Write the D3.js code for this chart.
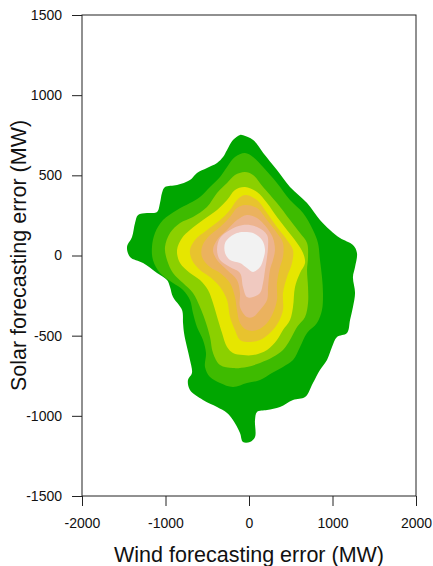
<!DOCTYPE html>
<html>
<head>
<meta charset="utf-8">
<script src="https://cdn.jsdelivr.net/npm/d3@7"></script>
<style>
  html, body { margin: 0; padding: 0; background: #fff; }
  svg { display: block; }
  text { font-family: "Liberation Sans", Arial, sans-serif; fill: #111; }
</style>
</head>
<body>
<svg id="chart" width="433" height="566"></svg>
<script>
// ---- data (wind error MW, solar error MW) ----
const xTicks = [-2000, -1000, 0, 1000, 2000];
const yTicks = [-1500, -1000, -500, 0, 500, 1000, 1500];
const levelColors = ["#00A600", "#3EBB00", "#8BD000", "#E6E600", "#E8C32E", "#EBB25E", "#EDB48E", "#F0C9C0", "#F2F2F2"];

const contour1 = [[-70,750],[50,720],[170,640],[335,533],[491,427],[695,327],[850,221],[970,159],[1090,109],[1245,65],[1293,16],[1270,-72],[1245,-134],[1270,-234],[1245,-321],[1210,-402],[1174,-483],[1054,-508],[994,-571],[934,-652],[850,-714],[766,-795],[671,-883],[527,-901],[371,-945],[216,-964],[96,-976],[72,-1026],[72,-1132],[12,-1163],[-72,-1163],[-108,-1107],[-192,-1026],[-263,-982],[-383,-945],[-551,-901],[-707,-839],[-731,-777],[-683,-733],[-707,-652],[-743,-571],[-778,-483],[-790,-421],[-802,-340],[-910,-259],[-946,-196],[-982,-153],[-1102,-109],[-1269,-47],[-1425,-9],[-1461,53],[-1401,115],[-1365,203],[-1329,253],[-1222,265],[-1102,271],[-1066,327],[-1042,390],[-1006,427],[-862,440],[-707,471],[-623,515],[-503,546],[-383,577],[-311,614],[-263,658],[-192,720],[-108,752]];
const contour2 = [[-48,639],[48,614],[168,552],[335,452],[491,346],[647,265],[766,159],[826,78],[850,-28],[874,-134],[886,-234],[874,-340],[814,-421],[695,-483],[611,-571],[527,-652],[407,-695],[275,-733],[132,-777],[-24,-795],[-192,-820],[-347,-795],[-467,-758],[-527,-695],[-515,-608],[-551,-527],[-623,-446],[-671,-359],[-707,-278],[-790,-215],[-910,-172],[-1066,-109],[-1150,-28],[-1162,53],[-1126,140],[-1030,221],[-862,284],[-707,327],[-587,365],[-467,427],[-347,490],[-263,552],[-168,614]];
const contour3 = [[-48,521],[48,502],[168,427],[335,327],[491,221],[611,140],[695,78],[707,-9],[695,-90],[707,-196],[707,-296],[671,-384],[575,-446],[491,-527],[407,-589],[287,-633],[132,-670],[-24,-695],[-192,-702],[-347,-683],[-431,-608],[-467,-508],[-527,-402],[-587,-321],[-671,-234],[-790,-172],[-910,-109],[-982,-28],[-1006,53],[-946,140],[-826,203],[-671,240],[-503,302],[-383,390],[-263,452],[-168,502]];
const contour4 = [[-48,427],[96,396],[216,327],[335,240],[455,159],[575,78],[647,16],[671,-47],[611,-109],[551,-196],[527,-321],[491,-402],[407,-465],[335,-527],[216,-589],[48,-621],[-72,-621],[-192,-608],[-263,-571],[-323,-483],[-371,-402],[-431,-296],[-491,-215],[-587,-153],[-707,-109],[-826,-47],[-862,34],[-802,109],[-707,159],[-551,221],[-383,284],[-263,346],[-168,409]];
const contour5 = [[-48,377],[96,346],[216,265],[335,178],[455,97],[527,34],[515,-47],[455,-134],[407,-234],[407,-340],[347,-421],[251,-483],[132,-527],[12,-540],[-108,-527],[-168,-465],[-228,-384],[-263,-278],[-347,-196],[-467,-134],[-587,-90],[-683,-28],[-707,34],[-647,97],[-503,159],[-347,221],[-228,284],[-144,346]];
const contour6 = [[-48,315],[96,296],[216,221],[335,140],[407,78],[407,-9],[371,-72],[335,-172],[335,-278],[287,-359],[216,-421],[96,-465],[-24,-465],[-108,-421],[-144,-340],[-168,-259],[-228,-172],[-347,-109],[-467,-72],[-563,-9],[-563,53],[-491,115],[-347,178],[-228,240],[-144,296]];
const contour7 = [[-24,253],[96,234],[216,172],[287,109],[311,34],[287,-28],[251,-90],[228,-196],[216,-278],[132,-340],[48,-384],[-24,-384],[-108,-321],[-108,-234],[-144,-153],[-263,-90],[-383,-28],[-431,34],[-383,97],[-263,159],[-144,221]];
const contour8 = [[-72,190],[96,178],[216,128],[228,53],[216,-9],[192,-90],[168,-172],[132,-234],[48,-259],[-24,-259],[-72,-196],[-108,-109],[-228,-72],[-347,-28],[-383,34],[-347,109],[-228,159]];
const contour9 = [[-72,147],[48,140],[156,97],[192,34],[168,-28],[132,-72],[48,-103],[-24,-78],[-108,-47],[-228,-28],[-287,16],[-287,78],[-228,115],[-144,140]];
const contours = [contour1, contour2, contour3, contour4, contour5, contour6, contour7, contour8, contour9];

// ---- layout ----
const svg = d3.select("#chart");
const mLeft = 82, mRight = 416, mTop = 15, mBottom = 496;

const x = d3.scaleLinear().domain([-2000, 2000]).range([mLeft, mRight]);
const y = d3.scaleLinear().domain([-1500, 1500]).range([mBottom, mTop]);

const line = d3.line()
  .x(d => x(d[0]))
  .y(d => y(d[1]))
  .curve(d3.curveCatmullRomClosed.alpha(0.5));

svg.append("g")
  .selectAll("path")
  .data(contours)
  .join("path")
  .attr("d", d => line(d))
  .attr("fill", (d, i) => levelColors[i])
  .attr("stroke", "none");

// axes
const fmt = d => String(d);
const xAxis = svg.append("g")
  .attr("transform", `translate(0,${mBottom})`)
  .call(d3.axisBottom(x).tickValues(xTicks).tickSize(10).tickPadding(12).tickFormat(fmt));
const yAxis = svg.append("g")
  .attr("transform", `translate(${mLeft},0)`)
  .call(d3.axisLeft(y).tickValues(yTicks).tickSize(10).tickPadding(10).tickFormat(fmt));

[xAxis, yAxis].forEach(g => {
  g.select(".domain").remove();
  g.selectAll("line").attr("stroke", "#222").attr("stroke-width", 1);
  g.selectAll("text").attr("font-size", "14px").attr("font-family", "Liberation Sans, Arial, sans-serif").attr("fill", "#111");
});

// box
svg.append("rect")
  .attr("x", mLeft).attr("y", mTop)
  .attr("width", mRight - mLeft).attr("height", mBottom - mTop)
  .attr("fill", "none").attr("stroke", "#222").attr("stroke-width", 1);

// titles
svg.append("text")
  .attr("x", (mLeft + mRight) / 2).attr("y", 562)
  .attr("text-anchor", "middle")
  .attr("font-size", "21.5px")
  .text("Wind forecasting error (MW)");

svg.append("text")
  .attr("transform", `translate(26,${(mTop + mBottom) / 2}) rotate(-90)`)
  .attr("text-anchor", "middle")
  .attr("font-size", "21.5px")
  .text("Solar forecasting error (MW)");
</script>
</body>
</html>
